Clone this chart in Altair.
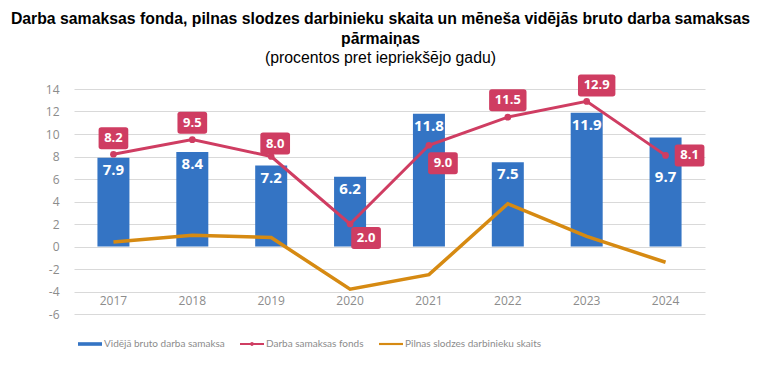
import altair as alt
import pandas as pd

years = ["2017", "2018", "2019", "2020", "2021", "2022", "2023", "2024"]
avg_wage = [7.9, 8.4, 7.2, 6.2, 11.8, 7.5, 11.9, 9.7]
wage_fund = [8.2, 9.5, 8.0, 2.0, 9.0, 11.5, 12.9, 8.1]
employees = [0.4, 1.0, 0.8, -3.8, -2.5, 3.8, 0.9, -1.4]
y_ticks = [-6, -4, -2, 0, 2, 4, 6, 8, 10, 12, 14]

s_bar = "Vidējā bruto darba samaksa"
s_fund = "Darba samaksas fonds"
s_emp = "Pilnas slodzes darbinieku skaits"

BLUE = "#3474C4"
PINK = "#CF3D62"
ORANGE = "#D68A12"
GREY = "#8c8c8c"

df = pd.DataFrame({"year": years, "avg": avg_wage, "fund": wage_fund, "emp": employees})

color_scale = alt.Scale(domain=[s_bar, s_fund, s_emp], range=[BLUE, PINK, ORANGE])

rect_path = "M-1,-0.15L1,-0.15L1,0.15L-1,0.15Z"
line_path = "M-1,-0.09L1,-0.09L1,0.09L-1,0.09Z"
dot_line_path = ("M-1,-0.09L1,-0.09L1,0.09L-1,0.09Z "
                 "M0.16,0A0.16,0.16 0 1,1 -0.16,0A0.16,0.16 0 1,1 0.16,0Z")
shape_signal = (f"datum.label == '{s_bar}' ? '{rect_path}' : "
                f"(datum.label == '{s_fund}' ? '{dot_line_path}' : '{line_path}')")

legend = alt.Legend(
    title=None, orient="none", legendX=4, legendY=243, direction="horizontal",
    columns=3, columnPadding=15, symbolType=alt.ExprRef(expr=shape_signal), symbolSize=576,
    symbolStrokeWidth=0, labelFont="Lato", labelFontSize=10,
    labelColor=GREY, labelOffset=2, labelLimit=300,
)
color_enc = alt.Color("series:N", scale=color_scale, legend=legend)

x_enc = alt.X("year:N", scale=alt.Scale(paddingInner=0, paddingOuter=0),
              axis=alt.Axis(title=None, domain=False, ticks=False, grid=False, labelAngle=0,
                            labelFont="Open Sans", labelFontSize=12, labelColor=GREY,
                            offset=-23, labelPadding=4))
y_scale = alt.Scale(domain=[-6, 14], nice=False)
y_axis = alt.Axis(title=None, values=y_ticks, tickCount=len(y_ticks), domain=False, ticks=False,
                  labelOverlap=False, labelExpr="'' + datum.value",
                  gridColor="#d9d9d9", gridWidth=1, labelFont="Open Sans",
                  labelFontSize=12, labelColor=GREY, labelPadding=15)

base = alt.Chart(df)

bars = base.transform_calculate(series=f"'{s_bar}'").mark_bar(size=32).encode(
    x=x_enc,
    y=alt.Y("avg:Q", scale=y_scale, axis=y_axis),
    color=color_enc,
)

fund_line = base.transform_calculate(series=f"'{s_fund}'").mark_line(strokeWidth=3).encode(
    x="year:N", y="fund:Q", color=color_enc)
fund_pts = base.mark_circle(size=45, opacity=1, color=PINK).encode(x="year:N", y="fund:Q")

emp_line = base.transform_calculate(series=f"'{s_emp}'").mark_line(strokeWidth=3.5).encode(
    x="year:N", y="emp:Q", color=color_enc)

layers = [bars, emp_line, fund_line, fund_pts]

# bar value labels (inside the top of bars)
bar_label_dy = {"2024": 40}
for yr in years:
    dy = bar_label_dy.get(yr, 12)
    layers.append(
        base.transform_filter(alt.datum.year == yr).mark_text(
            font="Open Sans", fontWeight="bold", fontSize=15, color="white",
            baseline="middle", dy=dy
        ).encode(x="year:N", y="avg:Q", text=alt.Text("avg:Q", format=".1f"))
    )

# wage fund value boxes
fund_offsets = {
    "2017": (0, -16), "2018": (0, -17), "2019": (4, -13), "2020": (16, 14),
    "2021": (14, 18), "2022": (0, -17), "2023": (10, -16), "2024": (24, 0),
}
narrow_box = ("M-1.1,-1L1.1,-1Q1.35,-1 1.35,-0.75L1.35,0.75Q1.35,1 1.1,1L-1.1,1"
              "Q-1.35,1 -1.35,0.75L-1.35,-0.75Q-1.35,-1 -1.1,-1Z")
wide_box = ("M-1.45,-1L1.45,-1Q1.7,-1 1.7,-0.75L1.7,0.75Q1.7,1 1.45,1L-1.45,1"
            "Q-1.7,1 -1.7,0.75L-1.7,-0.75Q-1.7,-1 -1.45,-1Z")
for yr, val in zip(years, wage_fund):
    dx, dy = fund_offsets[yr]
    sub = base.transform_filter(alt.datum.year == yr)
    layers.append(
        sub.mark_point(shape=wide_box if val >= 10 else narrow_box, filled=True,
                       size=484, color=PINK, opacity=1, xOffset=dx, yOffset=dy)
        .encode(x="year:N", y="fund:Q")
    )
    layers.append(
        sub.mark_text(font="Open Sans", fontWeight="bold", fontSize=13, color="white",
                      baseline="middle", dx=dx, dy=dy)
        .encode(x="year:N", y="fund:Q", text=alt.Text("fund:Q", format=".1f"))
    )

chart = alt.layer(*layers).properties(
    width=631, height=225,
    background="white",
    title=alt.Title(
        text=["Darba samaksas fonda, pilnas slodzes darbinieku skaita un mēneša vidējās bruto darba samaksas",
              "pārmaiņas"],
        subtitle="(procentos pret iepriekšējo gadu)",
        font="Liberation Sans", fontSize=15.8, fontWeight="bold", color="#000000",
        lineHeight=20, subtitleFont="Liberation Sans", subtitleFontSize=15.8,
        subtitleColor="#000000", subtitlePadding=3, subtitleLineHeight=18,
        anchor="middle", dx=-9, offset=8,
    ),
    autosize=alt.AutoSizeParams(type="none"),
    padding={"left": 66, "top": 81, "right": 55, "bottom": 64},
).configure_view(stroke=None)

chart.save("out.html", embed_options={"renderer": "svg", "actions": False})
